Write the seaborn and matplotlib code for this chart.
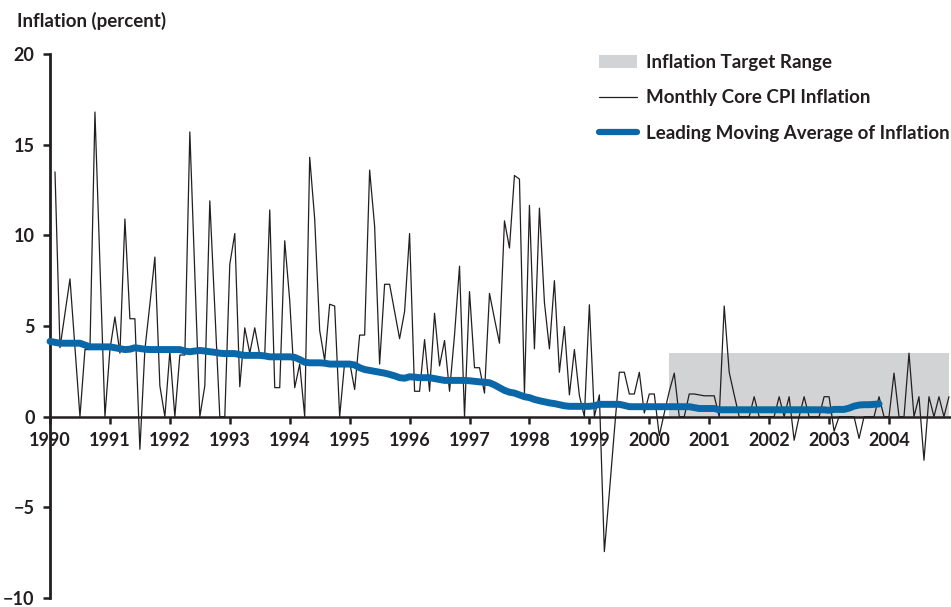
import numpy as np
import matplotlib
matplotlib.use("Agg")
import matplotlib.pyplot as plt
import seaborn as sns
from matplotlib.patches import Patch
from matplotlib.lines import Line2D

# ---------------- data ----------------
# Monthly core CPI inflation, Feb 1990 .. Jan 2005 (percent)
core_cpi = [
    13.5, 3.8, 5.7, 7.6, 3.8, 0.0, 3.7, 3.7, 16.8, 8.4, 0.0,          # 1990 Feb-Dec
    3.7, 5.5, 3.5, 10.9, 5.4, 5.4, -1.8, 3.7, 6.2, 8.8, 1.7, 0.0,     # 1991
    3.6, 0.0, 3.4, 3.4, 15.7, 7.8, 0.0, 1.7, 11.9, 6.0, 0.0, 0.0,     # 1992
    8.4, 10.1, 1.65, 4.9, 3.5, 4.9, 3.4, 3.4, 11.4, 1.6, 1.6, 9.7,    # 1993
    6.4, 1.6, 2.9, 0.0, 14.3, 10.9, 4.75, 3.1, 6.2, 6.1, 0.0, 3.0,    # 1994
    3.0, 1.5, 4.5, 4.5, 13.6, 10.5, 2.9, 7.3, 7.3, 5.8, 4.3, 5.8,     # 1995
    10.1, 1.4, 1.4, 4.25, 1.4, 5.7, 2.8, 4.2, 1.4, 4.5, 8.3, 0.0,     # 1996
    6.9, 2.7, 2.7, 1.3, 6.8, 5.4, 4.05, 10.8, 9.3, 13.3, 13.1, 1.25,  # 1997
    11.65, 3.74, 11.5, 6.3, 3.74, 7.5, 2.45, 4.97, 1.2, 3.7, 1.16, 0.0,  # 1998
    6.17, 0.0, 1.2, -7.44, -4.2, -0.8, 2.45, 2.45, 1.25, 1.25, 2.45, 0.2,  # 1999
    1.25, 1.25, -1.05, 0.2, 1.4, 2.4, 0.0, 0.0, 1.25, 1.25, 1.2, 1.15,  # 2000
    1.15, 1.15, 0.0, 6.1, 2.45, 1.2, 0.0, 0.0, 0.0, 1.1, 0.0, 0.0,    # 2001
    0.0, 0.0, 1.1, 0.0, 1.1, -1.3, 0.0, 1.1, 0.0, 0.0, 0.0, 1.1,      # 2002
    1.1, -0.8, 0.0, 0.0, 0.0, 0.0, -1.2, 0.0, 0.0, 0.0, 1.1, 0.0,     # 2003
    0.0, 2.4, 0.0, 0.0, 3.5, 0.0, 1.1, -2.4, 1.1, 0.0, 1.1, 0.0,      # 2004
    1.1,                                                              # 2005 Jan
]

# Leading moving average of inflation, Jan 1990 .. Nov 2003 (percent)
moving_avg = [
    4.15, 4.1, 4.05, 4.05, 4.05, 4.05, 4.05, 3.95, 3.85, 3.85, 3.85, 3.85,   # 1990
    3.85, 3.8, 3.75, 3.7, 3.72, 3.8, 3.76, 3.72, 3.7, 3.7, 3.7, 3.7,         # 1991
    3.7, 3.7, 3.7, 3.62, 3.58, 3.62, 3.65, 3.62, 3.58, 3.55, 3.5, 3.48,      # 1992
    3.48, 3.48, 3.42, 3.38, 3.38, 3.38, 3.38, 3.35, 3.3, 3.3, 3.3, 3.3,      # 1993
    3.3, 3.27, 3.15, 3.0, 2.97, 2.97, 2.97, 2.95, 2.9, 2.9, 2.9, 2.9,        # 1994
    2.9, 2.85, 2.7, 2.6, 2.55, 2.5, 2.45, 2.4, 2.33, 2.25, 2.15, 2.12,       # 1995
    2.2, 2.18, 2.15, 2.15, 2.15, 2.1, 2.05, 2.0, 2.0, 2.0, 2.0, 2.0,         # 1996
    1.98, 1.95, 1.92, 1.9, 1.87, 1.75, 1.6, 1.45, 1.35, 1.3, 1.2, 1.1,       # 1997
    1.05, 0.95, 0.88, 0.82, 0.76, 0.72, 0.66, 0.6, 0.57, 0.57, 0.57, 0.57,   # 1998
    0.57, 0.6, 0.68, 0.68, 0.68, 0.68, 0.68, 0.62, 0.55, 0.55, 0.55, 0.55,   # 1999
    0.55, 0.55, 0.55, 0.55, 0.55, 0.55, 0.55, 0.55, 0.55, 0.5, 0.45, 0.45,   # 2000
    0.45, 0.45, 0.38, 0.38, 0.38, 0.38, 0.38, 0.38, 0.38, 0.38, 0.38, 0.38,  # 2001
    0.38, 0.38, 0.38, 0.38, 0.38, 0.38, 0.38, 0.38, 0.38, 0.38, 0.38, 0.38,  # 2002
    0.35, 0.4, 0.4, 0.4, 0.47, 0.58, 0.64, 0.66, 0.66, 0.68, 0.7,            # 2003
]

# Inflation target range (percent), in force from May 2000 to Jan 2005
target_low = 0.0
target_high = 3.5
target_first_month = 124   # months after Jan 1990
target_last_month = 180

years = list(range(1990, 2005))
year_labels = [str(y) for y in years]
y_ticks = [-10, -5, 0, 5, 10, 15, 20]

legend_labels = ["Inflation Target Range",
                 "Monthly Core CPI Inflation",
                 "Leading Moving Average of Inflation"]

# ---------------- style ----------------
sns.set_theme(style="white")
plt.rcParams["font.family"] = ["Lato", "DejaVu Sans"]
plt.rcParams["axes.unicode_minus"] = True

INK = "#231f20"
BLUE = "#0a67a8"
GREY = "#d1d3d4"

W, H = 951, 607
fig = plt.figure(figsize=(W / 100, H / 100), dpi=100)
ax = fig.add_axes([50 / W, 9 / H, 901 / W, (553 - 9) / H])
ax.set_xlim(1990, 1990 + 901 / 59.93)
ax.set_ylim(-10, 20)

core_x = 1990 + np.arange(1, len(core_cpi) + 1) / 12.0
ma_x = 1990 + np.arange(len(moving_avg)) / 12.0
tgt_x = 1990 + np.arange(target_first_month, target_last_month + 1) / 12.0

ax.fill_between(tgt_x, target_low, target_high, color=GREY, lw=0, zorder=1)
sns.lineplot(x=core_x, y=core_cpi, ax=ax, color=INK, lw=0.9, zorder=3)
sns.lineplot(x=ma_x, y=moving_avg, ax=ax, color=BLUE, lw=5, zorder=4,
             solid_capstyle="round", clip_on=False)

# axes / spines
for s in ["top", "right"]:
    ax.spines[s].set_visible(False)
ax.spines["bottom"].set_position(("data", 0))
ax.spines["bottom"].set_linewidth(1.8)
ax.spines["bottom"].set_color(INK)
ax.spines["bottom"].set_zorder(5)
ax.spines["left"].set_linewidth(2.0)
ax.spines["left"].set_color(INK)

ax.set_xticks(years)
ax.set_xticklabels(year_labels)
ax.set_yticks(y_ticks)
ax.tick_params(axis="x", direction="out", length=5, width=1.8, pad=6,
               labelsize=13, colors=INK, bottom=True)
ax.tick_params(axis="y", direction="out", length=5, width=1.8, pad=6,
               labelsize=13, colors=INK, left=True)
for lab in ax.get_xticklabels() + ax.get_yticklabels():
    lab.set_fontweight("bold")
ax.set_xlabel("")
ax.set_ylabel("")
ax.grid(False)

fig.text(17 / W, 1 - 21 / H, "Inflation (percent)", ha="left", va="center",
         fontsize=13.5, fontweight="bold", color=INK)

handles = [Patch(facecolor=GREY, edgecolor="none"),
           Line2D([], [], color=INK, lw=0.9),
           Line2D([], [], color=BLUE, lw=4.5, solid_capstyle="round")]
leg = ax.legend(handles, legend_labels, loc="upper left",
                bbox_to_anchor=(599 / W, 1 - 54 / H),
                bbox_transform=fig.transFigure, frameon=False,
                prop={"size": 13.5, "weight": "bold"}, handlelength=2.0,
                handletextpad=0.5, labelspacing=0.98, borderpad=0,
                borderaxespad=0)
for t in leg.get_texts():
    t.set_color(INK)

fig.savefig("out.png", dpi=100)
